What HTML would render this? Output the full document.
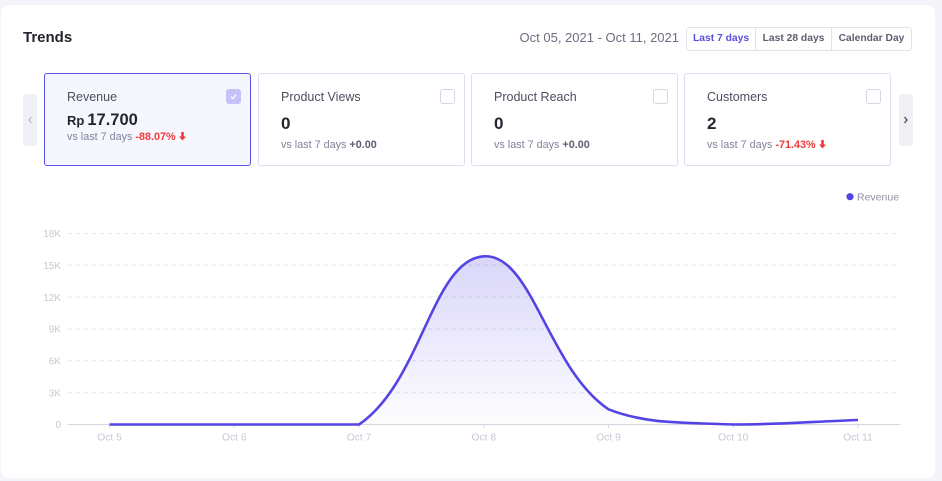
<!DOCTYPE html>
<html><head><meta charset="utf-8">
<style>
*{box-sizing:border-box;margin:0;padding:0}
html,body{width:942px;height:481px;overflow:hidden;background:#f4f5fa;font-family:"Liberation Sans",sans-serif}
.abs{position:absolute}
.panel{position:absolute;left:1px;top:5px;width:934px;height:473px;background:#fff;border-radius:8px}
.title{left:23px;top:30px;font-size:15px;font-weight:bold;color:#23252f;line-height:16px}
.date{right:263px;top:31px;font-size:13px;color:#6b6e80;line-height:14px;white-space:nowrap}
.btns{left:686px;top:27px;width:226px;height:24px;border:1px solid #dfe1ec;border-radius:3px;display:flex;overflow:hidden}
.btns div{height:22px;line-height:22px;font-size:10.3px;font-weight:bold;color:#5d6072;text-align:center;white-space:nowrap}
.btns .b1{width:69px;color:#5a4fe0;border-right:1px solid #dfe1ec}
.btns .b2{width:76px;border-right:1px solid #dfe1ec}
.btns .b3{flex:1}
.nav{top:94px;width:14px;height:52px;background:#eff0f6;border-radius:2px}
.card{position:absolute;top:73px;width:207px;height:93px;border:1px solid #dcdfee;border-radius:3px;background:#fff}
.card.sel{border:1px solid #5b52e6;background:#f6f6fe}
.card .t{position:absolute;left:22px;top:16px;font-size:12.5px;color:#4b4e5e;line-height:14px;white-space:nowrap}
.card .cb{position:absolute;left:181px;top:15px;width:15px;height:15px;border:1px solid #d3d6e4;border-radius:3px;background:#fff}
.card.sel .cb{background:#c6c2f8;border-color:#c6c2f8}
.card .v{position:absolute;left:22px;top:41px;font-size:17px;font-weight:bold;color:#23252f;line-height:18px;white-space:nowrap}
.card .s{position:absolute;left:22px;top:65px;font-size:10.8px;color:#80839a;line-height:12px;white-space:nowrap}
.card .s b{color:#5d6072}
.card .s b.red{color:#f0393b}
.card.sel .v{top:37px;font-size:16.5px}
.card.sel .s{top:57px}
</style></head><body>
<div class="panel"></div>
<div class="abs title">Trends</div>
<div class="abs date">Oct 05, 2021 - Oct 11, 2021</div>
<div class="abs btns"><div class="b1">Last 7 days</div><div class="b2">Last 28 days</div><div class="b3">Calendar Day</div></div>

<div class="abs nav" style="left:23px"></div>
<div class="abs nav" style="left:899px"></div>

<div class="card sel" style="left:44px">
  <div class="t">Revenue</div>
  <div class="cb"><svg width="13" height="13" viewBox="0 0 13 13" style="position:absolute;left:0;top:0"><path d="M4 6.8 L5.8 8.5 L9.2 4.6" fill="none" stroke="#fff" stroke-width="1.3"/></svg></div>
  <div class="v"><span style="font-size:13px;margin-right:3px">Rp</span>17.700</div>
  <div class="s">vs last 7 days <b class="red">-88.07%</b> <svg width="7" height="9" viewBox="0 0 7 9" style="vertical-align:-1px"><path d="M2.2 0 H4.8 V4.5 H7 L3.5 8.5 L0 4.5 H2.2 Z" fill="#f0393b"/></svg></div>
</div>
<div class="card" style="left:258px">
  <div class="t">Product Views</div>
  <div class="cb"></div>
  <div class="v">0</div>
  <div class="s">vs last 7 days <b>+0.00</b></div>
</div>
<div class="card" style="left:471px">
  <div class="t">Product Reach</div>
  <div class="cb"></div>
  <div class="v">0</div>
  <div class="s">vs last 7 days <b>+0.00</b></div>
</div>
<div class="card" style="left:684px">
  <div class="t">Customers</div>
  <div class="cb"></div>
  <div class="v">2</div>
  <div class="s">vs last 7 days <b class="red">-71.43%</b> <svg width="7" height="9" viewBox="0 0 7 9" style="vertical-align:-1px"><path d="M2.2 0 H4.8 V4.5 H7 L3.5 8.5 L0 4.5 H2.2 Z" fill="#f0393b"/></svg></div>
</div>

<svg class="abs" style="left:0;top:0" width="942" height="481" viewBox="0 0 942 481">
  <defs>
    <linearGradient id="g" x1="0" y1="256" x2="0" y2="424.5" gradientUnits="userSpaceOnUse">
      <stop offset="0" stop-color="#5444e4" stop-opacity="0.22"/>
      <stop offset="1" stop-color="#5444e4" stop-opacity="0.01"/>
    </linearGradient>
  </defs>
  <path d="M31.5 117 L29 120 L31.5 123" fill="none" stroke="#b4b7c6" stroke-width="1"/>
  <path d="M904.5 117 L907 120 L904.5 123" fill="none" stroke="#3a3d4a" stroke-width="1.2"/>
  <circle cx="850" cy="196.7" r="3.6" fill="#5444e4"/>
  <text x="857" y="200.5" font-family="Liberation Sans, sans-serif" font-size="10.5" fill="#8e90a2">Revenue</text>
  <g stroke="#e3e4ec" stroke-width="1" stroke-dasharray="4 4">
    <line x1="68" x2="900" y1="233.5" y2="233.5"/>
    <line x1="68" x2="900" y1="265.3" y2="265.3"/>
    <line x1="68" x2="900" y1="297.2" y2="297.2"/>
    <line x1="68" x2="900" y1="329" y2="329"/>
    <line x1="68" x2="900" y1="360.8" y2="360.8"/>
    <line x1="68" x2="900" y1="392.7" y2="392.7"/>
  </g>
  <line x1="68" x2="900" y1="424.5" y2="424.5" stroke="#d4d6e0" stroke-width="1"/>
  <g stroke="#d4d6e0" stroke-width="1">
    <line x1="109.5" x2="109.5" y1="424.5" y2="428"/>
    <line x1="234.25" x2="234.25" y1="424.5" y2="428"/>
    <line x1="359" x2="359" y1="424.5" y2="428"/>
    <line x1="483.75" x2="483.75" y1="424.5" y2="428"/>
    <line x1="608.5" x2="608.5" y1="424.5" y2="428"/>
    <line x1="733.25" x2="733.25" y1="424.5" y2="428"/>
    <line x1="858" x2="858" y1="424.5" y2="428"/>
  </g>
  <g font-family="Liberation Sans, sans-serif" font-size="10" fill="#c6c8d5" text-anchor="end">
    <text x="61" y="237.1">18K</text>
    <text x="61" y="268.9">15K</text>
    <text x="61" y="300.8">12K</text>
    <text x="61" y="332.6">9K</text>
    <text x="61" y="364.4">6K</text>
    <text x="61" y="396.3">3K</text>
    <text x="61" y="428.1">0</text>
  </g>
  <g font-family="Liberation Sans, sans-serif" font-size="10.3" fill="#c6c8d5" text-anchor="middle">
    <text x="109.5" y="440.4">Oct 5</text>
    <text x="234.25" y="440.4">Oct 6</text>
    <text x="359" y="440.4">Oct 7</text>
    <text x="483.75" y="440.4">Oct 8</text>
    <text x="608.5" y="440.4">Oct 9</text>
    <text x="733.25" y="440.4">Oct 10</text>
    <text x="858" y="440.4">Oct 11</text>
  </g>
  <path d="M109.5,424.5 L359,424.5 C421.55,382.33 432.38,259.43 483.75,256.3 C532.18,253.35 547.52,368.19 608.5,409.3 C647.32,424.5 683.18,422.35 733.25,424.5 C782.98,424.5 808.1,421.8 858,420 L858,424.5 Z" fill="url(#g)"/>
  <path d="M109.5,424.5 L359,424.5 C421.55,382.33 432.38,259.43 483.75,256.3 C532.18,253.35 547.52,368.19 608.5,409.3 C647.32,424.5 683.18,422.35 733.25,424.5 C782.98,424.5 808.1,421.8 858,420" fill="none" stroke="#5444e4" stroke-width="2.6" stroke-linejoin="round"/>
</svg>
</body></html>
